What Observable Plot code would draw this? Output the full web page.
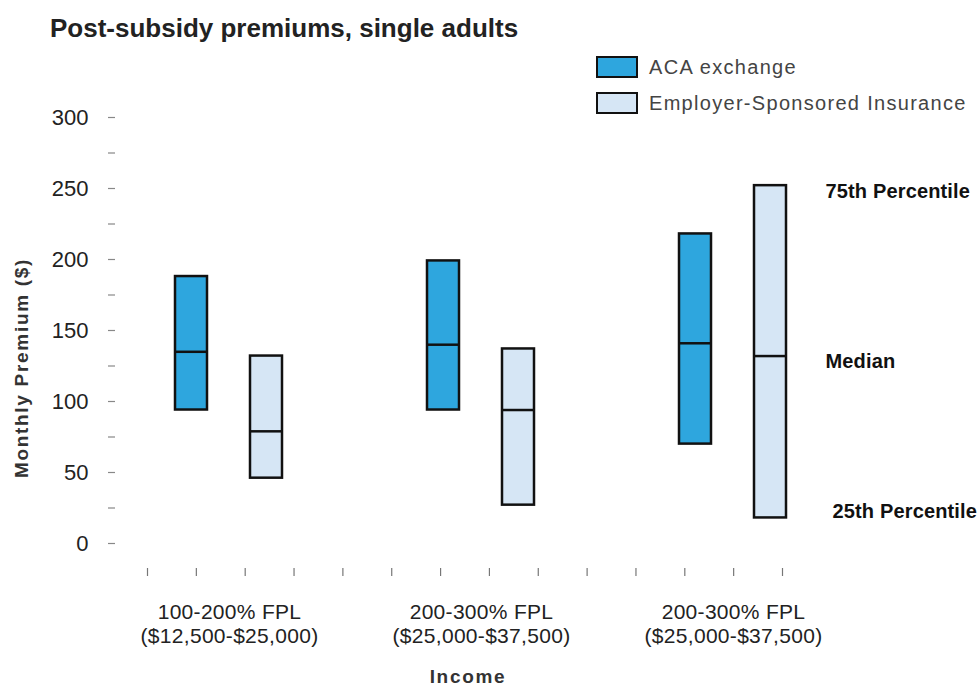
<!DOCTYPE html>
<html>
<head>
<meta charset="utf-8">
<script src="https://cdn.jsdelivr.net/npm/d3@7"></script>
<script src="https://cdn.jsdelivr.net/npm/@observablehq/plot@0.6"></script>
<style>
  body { margin: 0; background: #fff; font-family: "Liberation Sans", Arial, sans-serif; }
  #wrap { position: relative; width: 980px; height: 686px; overflow: hidden; }
  #chart { position: absolute; left: 0; top: 0; }
  #strip { position: absolute; left: 0; top: 568px; }
  #title { position: absolute; left: 50px; top: 13px; font-size: 26px; font-weight: bold; color: #222; white-space: nowrap; }
  #legend { position: absolute; left: 596px; top: 49px; }
  .item { display: flex; align-items: center; height: 36px; font-size: 20px; letter-spacing: 1.3px; color: #444; }
  .sw { width: 38px; height: 18px; border: 2px solid #111; margin-right: 11px; }
  .axis-title { position: absolute; font-size: 19px; font-weight: bold; letter-spacing: 1.7px; color: #333;
                line-height: 22px; height: 22px; text-align: center; white-space: nowrap; }
  #ytitle { left: -128px; top: 357px; width: 300px; transform: rotate(-90deg); transform-origin: 150px 11px; }
  #xtitle { left: 368px; top: 666px; width: 200px; }
  g[aria-label="fx-axis tick label"] text { letter-spacing: 0.3px; }
  .captions text { letter-spacing: 0.15px; }
</style>
</head>
<body>
<div id="wrap">
  <div id="chart"></div>
  <div id="strip"></div>
  <div id="title">Post-subsidy premiums, single adults</div>
  <div id="legend"></div>
  <div id="ytitle" class="axis-title">Monthly Premium ($)</div>
  <div id="xtitle" class="axis-title">Income</div>
</div>
<script>
// Income brackets (x categories)
const groupLabels = [
  "100-200% FPL\n($12,500-$25,000)",
  "200-300% FPL\n($25,000-$37,500)",
  "200-300% FPL\n($25,000-$37,500)"
];
// Coverage types
const seriesNames = ["ACA exchange", "Employer-Sponsored Insurance"];
const seriesColors = ["#2ea6de", "#d6e6f5"];

// Monthly premium percentiles ($)
const acaP25 = [94, 94, 70];
const acaMedian = [135, 140, 141];
const acaP75 = [188, 199, 218];
const esiP25 = [46, 27, 18];
const esiMedian = [79, 94, 132];
const esiP75 = [132, 137, 252];

// Axis ticks
const yLabelTicks = [0, 50, 100, 150, 200, 250, 300];
const yTickMarks = [0, 25, 50, 75, 100, 125, 150, 175, 200, 225, 250, 275, 300];
const bottomTicks = d3.range(14);
const percentileNames = ["75th Percentile", "Median", "25th Percentile"];

const rows = groupLabels.flatMap((_, i) => [
  {group: i, series: seriesNames[0], p25: acaP25[i], median: acaMedian[i], p75: acaP75[i]},
  {group: i, series: seriesNames[1], p25: esiP25[i], median: esiMedian[i], p75: esiP75[i]}
]);

// Percentile captions sit beside the last employer box
const lastBox = rows[rows.length - 1];
const captions = [
  {field: "p75", text: percentileNames[0], dx: 55, dy: 6},
  {field: "median", text: percentileNames[1], dx: 55, dy: 6},
  {field: "p25", text: percentileNames[2], dx: 62, dy: -6}
];

const font = "Liberation Sans, Arial, sans-serif";

const chart = Plot.plot({
  width: 980,
  height: 686,
  marginTop: 117,
  marginBottom: 143,
  marginLeft: 103,
  marginRight: 121,
  style: {fontFamily: font, background: "transparent", color: "#222"},
  fx: {domain: [0, 1, 2], paddingInner: 0, paddingOuter: 0},
  x: {domain: seriesNames, paddingInner: 0.567, paddingOuter: 0.963, axis: null},
  y: {domain: [0, 300]},
  color: {domain: seriesNames, range: seriesColors},
  marks: [
    Plot.axisY({ticks: yTickMarks, tickSize: 7, dx: 12, stroke: "#888", strokeWidth: 1.2, tickFormat: () => "", label: null}),
    Plot.axisY({ticks: yLabelTicks, tickSize: 0, tickPadding: 15, fontSize: 22, fill: "#222", label: null}),
    Plot.axisFx({
      anchor: "bottom", tickSize: 0, tickPadding: 58, fontSize: 21, lineHeight: 1.15, fill: "#222",
      tickFormat: (i) => groupLabels[i], label: null
    }),
    Plot.barY(rows, {fx: "group", x: "series", y1: "p25", y2: "p75", fill: "series", stroke: "#111", strokeWidth: 2.5}),
    Plot.tickY(rows, {fx: "group", x: "series", y: "median", stroke: "#111", strokeWidth: 2.5}),
    ...captions.map((c) => Plot.text([lastBox], {
      fx: "group", x: "series", y: c.field, text: () => c.text, className: "captions",
      dx: c.dx, dy: c.dy, textAnchor: "start", fontSize: 20, fontWeight: "bold", fill: "#111"
    }))
  ]
});
document.getElementById("chart").append(chart);

// Row of evenly spaced category ticks under the plot
const strip = Plot.plot({
  width: 980,
  height: 14,
  marginTop: 0,
  marginBottom: 14,
  marginLeft: 147,
  marginRight: 198,
  style: {background: "transparent"},
  x: {domain: [0, 13]},
  marks: [Plot.axisX({ticks: bottomTicks, tickSize: 8, tickFormat: () => "", stroke: "#777", strokeWidth: 1.2, label: null})]
});
document.getElementById("strip").append(strip);

// Legend
const legend = document.getElementById("legend");
seriesNames.forEach((name, i) => {
  const item = document.createElement("div");
  item.className = "item";
  const sw = document.createElement("span");
  sw.className = "sw";
  sw.style.background = seriesColors[i];
  const label = document.createElement("span");
  label.textContent = name;
  item.append(sw, label);
  legend.append(item);
});
</script>
</body>
</html>
